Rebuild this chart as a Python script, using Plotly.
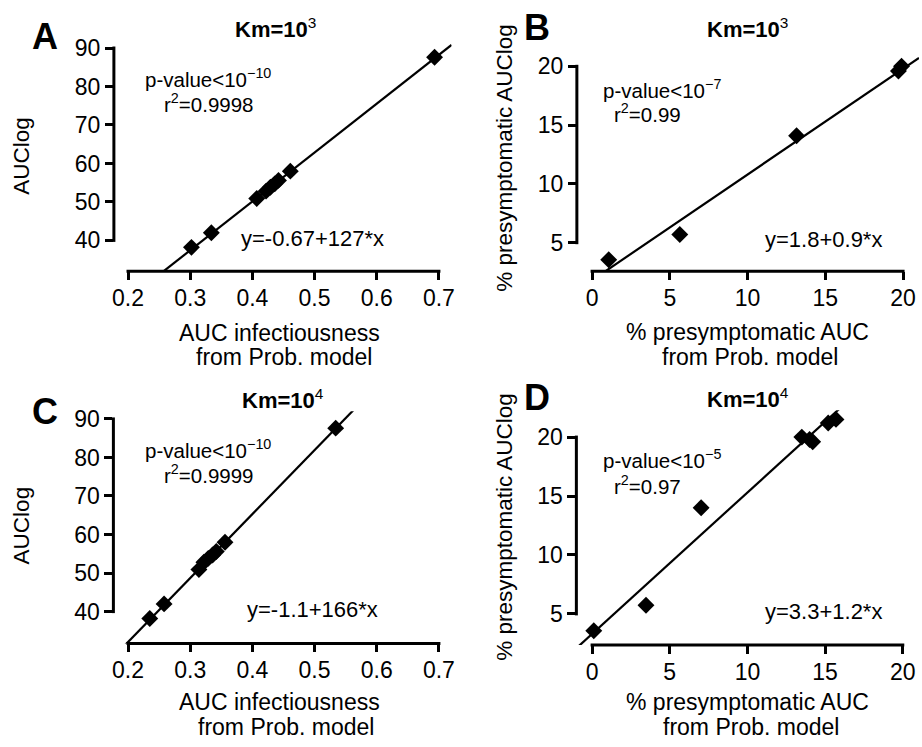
import plotly.graph_objects as go

W, H = 922, 747
FONT = "Liberation Sans, Arial, Helvetica, sans-serif"

# ---- data -------------------------------------------------------------
# AUClog values (shared by both Km settings)
auclog = [38.2, 42.0, 50.9, 52.8, 53.8, 54.7, 55.6, 58.0, 87.6]
# AUC infectiousness from the probabilistic model
auc_prob_km3 = [0.302, 0.334, 0.407, 0.422, 0.429, 0.436, 0.442, 0.461, 0.693]
auc_prob_km4 = [0.235, 0.258, 0.314, 0.322, 0.329, 0.336, 0.342, 0.356, 0.534]

# % presymptomatic AUC (model) vs % presymptomatic AUClog
presym_prob_km3 = [1.07, 5.64, 13.15, 19.7, 19.9]
presym_log_km3 = [3.55, 5.7, 14.1, 19.6, 20.0]
presym_prob_km4 = [0.11, 3.47, 7.02, 13.5, 14.0, 14.2, 15.2, 15.7]
presym_log_km4 = [3.57, 5.73, 14.0, 20.0, 19.8, 19.6, 21.2, 21.5]

# linear fits: (intercept, slope)
fit_a = (-0.67, 127.0)
fit_b = (1.8, 0.9)
fit_c = (-1.1, 166.0)
fit_d = (3.3, 1.2)

auc_ticks = [0.2, 0.3, 0.4, 0.5, 0.6, 0.7]
auclog_ticks = [40, 50, 60, 70, 80, 90]
pct_x_ticks = [0, 5, 10, 15, 20]
pct_y_ticks = [5, 10, 15, 20]

# ---- panel layout (pixel geometry of each subplot) --------------------
panels = [
    dict(letter="A", km="3", x=auc_prob_km3, y=auclog, fit=fit_a,
         xt=auc_ticks, yt=auclog_ticks, xpx=(126.7, 439.3), ypx=(237.0, 43.3),
         box=(112.5, 452.0, 35.0, 268.0),
         p="10", r2="0.9998", eq="y=-0.67+127*x",
         xtitle=("AUC infectiousness", "from Prob. model"), ytitle="AUClog",
         pos=dict(letter=(43, 46), title=(275, 33.3), s1=(143, 83), s2=(162, 108.5),
                  eq=(239, 244), xt1=(279, 339), xt2=(284, 364), yt=(20, 152))),
    dict(letter="B", km="3", x=presym_prob_km3, y=presym_log_km3, fit=fit_b,
         xt=pct_x_ticks, yt=pct_y_ticks, xpx=(593.3, 906.0), ypx=(239.3, 61.7),
         box=(578.0, 922.0, 35.0, 268.0),
         p="7", r2="0.99", eq="y=1.8+0.9*x",
         xtitle=("% presymptomatic AUC", "from Prob. model"),
         ytitle="% presymptomatic AUClog",
         pos=dict(letter=(538, 37), title=(750, 33.3), s1=(603, 94), s2=(614, 118.5),
                  eq=(766, 245), xt1=(750, 338), xt2=(752, 364), yt=(505, 153.5))),
    dict(letter="C", km="4", x=auc_prob_km4, y=auclog, fit=fit_c,
         xt=auc_ticks, yt=auclog_ticks, xpx=(126.7, 439.3), ypx=(610.7, 416.7),
         box=(112.0, 452.0, 409.0, 642.7),
         p="10", r2="0.9999", eq="y=-1.1+166*x",
         xtitle=("AUC infectiousness", "from Prob. model"), ytitle="AUClog",
         pos=dict(letter=(43, 423), title=(283, 407.3), s1=(143, 456.5), s2=(162, 482),
                  eq=(245, 617), xt1=(279, 711), xt2=(286, 736), yt=(20, 524))),
    dict(letter="D", km="4", x=presym_prob_km4, y=presym_log_km4, fit=fit_d,
         xt=pct_x_ticks, yt=pct_y_ticks, xpx=(593.3, 905.7), ypx=(613.0, 435.0),
         box=(577.5, 922.0, 408.0, 644.3),
         p="5", r2="0.97", eq="y=3.3+1.2*x",
         xtitle=("% presymptomatic AUC", "from Prob. model"),
         ytitle="% presymptomatic AUClog",
         pos=dict(letter=(538, 409), title=(750, 406), s1=(603, 467), s2=(614, 492.5),
                  eq=(766, 620), xt1=(750, 711), xt2=(753, 736), yt=(505, 525))),
]


def px(xp):
    return xp / W


def py(yp):
    return 1 - yp / H


fig = go.Figure()
annotations = []
shapes = []


def add_text(text, x, base, size, anchor="center", bold=False, angle=0):
    t = f"<b>{text}</b>" if bold else text
    if angle:
        annotations.append(dict(text=t, x=px(x), y=py(base), xref="paper", yref="paper",
                                xanchor="center", yanchor="middle", textangle=angle,
                                showarrow=False, borderpad=0,
                                font=dict(family=FONT, size=size, color="black")))
    else:
        annotations.append(dict(text=t, x=px(x), y=py(base + 0.212 * size),
                                xref="paper", yref="paper", xanchor=anchor,
                                yanchor="bottom", showarrow=False, borderpad=0,
                                font=dict(family=FONT, size=size, color="black")))


for i, pnl in enumerate(panels, start=1):
    L, R, T, B = pnl["box"]
    xt, yt = pnl["xt"], pnl["yt"]
    x0p, x1p = pnl["xpx"]
    y0p, y1p = pnl["ypx"]
    sx = (x1p - x0p) / (xt[-1] - xt[0])
    sy = (y0p - y1p) / (yt[-1] - yt[0])
    xr = [xt[0] - (x0p - L) / sx, xt[0] + (R - x0p) / sx]
    yr = [yt[0] - (B - y0p) / sy, yt[0] + (y0p - T) / sy]

    xa = "x" if i == 1 else f"x{i}"
    ya = "y" if i == 1 else f"y{i}"
    common = dict(showgrid=False, zeroline=False, showline=False, ticks="outside",
                  ticklen=8, tickwidth=3, tickcolor="black",
                  tickfont=dict(family=FONT, size=23, color="black"))
    fig.layout[f"xaxis{'' if i == 1 else i}"] = dict(
        domain=[px(L), px(R)], range=xr, anchor=ya, tickvals=xt,
        ticktext=[f"{v:g}" for v in xt], ticklabelstandoff=-2, **common)
    fig.layout[f"yaxis{'' if i == 1 else i}"] = dict(
        domain=[py(B), py(T)], range=yr, anchor=xa, tickvals=yt,
        ticktext=[f"{v:g}" for v in yt], **common)

    # regression line across the whole axis range (clipped by the plot area)
    a, b = pnl["fit"]
    fig.add_trace(go.Scatter(x=xr, y=[a + b * v for v in xr], mode="lines",
                             line=dict(color="black", width=2.2), xaxis=xa, yaxis=ya,
                             hoverinfo="skip", showlegend=False))
    fig.add_trace(go.Scatter(x=pnl["x"], y=pnl["y"], mode="markers",
                             marker=dict(symbol="diamond", size=13, color="black",
                                         line=dict(width=0)),
                             xaxis=xa, yaxis=ya, showlegend=False))

    # axis lines spanning only the tick range
    shapes.append(dict(type="line", xref="paper", yref="paper",
                       x0=px(x0p - 1.5), x1=px(x1p + 1.5), y0=py(B), y1=py(B),
                       line=dict(color="black", width=3)))
    shapes.append(dict(type="line", xref="paper", yref="paper",
                       x0=px(L), x1=px(L), y0=py(y0p + 1.5), y1=py(y1p - 1.5),
                       line=dict(color="black", width=3)))

    pos = pnl["pos"]
    add_text(pnl["letter"], *pos["letter"], 36, bold=True)
    annotations.append(dict(text=f"<b>Km=10</b><sup>{pnl['km']}</sup>",
                            x=px(pos["title"][0]), y=py(pos["title"][1] + 0.212 * 22),
                            xref="paper", yref="paper", xanchor="center", yanchor="bottom",
                            showarrow=False, borderpad=0,
                            font=dict(family=FONT, size=22, color="black")))
    add_text(f"p-value&lt;10<sup>\u2212{pnl['p']}</sup>", *pos["s1"], 20.5, anchor="left")
    add_text(f"r<sup>2</sup>={pnl['r2']}", *pos["s2"], 20.5, anchor="left")
    add_text(pnl["eq"], *pos["eq"], 22, anchor="left")
    add_text(pnl["xtitle"][0], *pos["xt1"], 23)
    add_text(pnl["xtitle"][1], *pos["xt2"], 23)
    add_text(pnl["ytitle"], *pos["yt"], 22.5, angle=-90)

fig.update_layout(width=W, height=H, margin=dict(l=0, r=0, t=0, b=0),
                  paper_bgcolor="white", plot_bgcolor="white",
                  annotations=annotations, shapes=shapes, showlegend=False)

fig.write_html("out.html")
